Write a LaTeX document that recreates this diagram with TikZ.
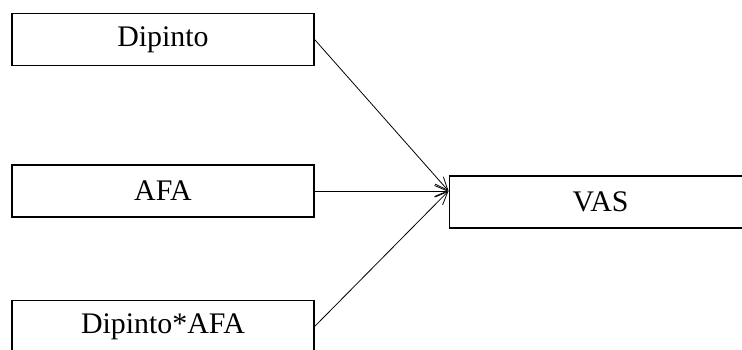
\documentclass[tikz,border=0pt]{standalone}
\usepackage{fontspec}
\setmainfont{Liberation Serif}
\usepackage{tikz}
\usetikzlibrary{arrows.meta}
\tikzset{
    varbox/.style={draw,line width=0.7pt,minimum width=6.04cm,minimum height=1.04cm,
        inner sep=0pt,font=\fontsize{17}{20}\selectfont},
    outbox/.style={varbox,line width=1.1pt},
    effect/.style={line width=0.45pt,-{Straight Barb[length=0.26cm,width=0.22cm]}}
}

\begin{document}
\begin{tikzpicture}
\useasboundingbox (0,0) rectangle (14.84,6.98);
\node[varbox] (dip) at (3.26,6.19) {Dipinto};
\node[varbox] (afa) at (3.26,3.16) {AFA};
\node[varbox] (inter) at (3.26,0.45) {Dipinto*AFA};
\node[outbox] (vas) at (12.01,2.934) {VAS};
\coordinate (tip) at (vas.west |- afa.east);
\draw[effect] (dip.east) -- (tip);
\draw[effect] (afa.east) -- (tip);
\draw[effect] (inter.east) -- (tip);
\end{tikzpicture}
\end{document}
